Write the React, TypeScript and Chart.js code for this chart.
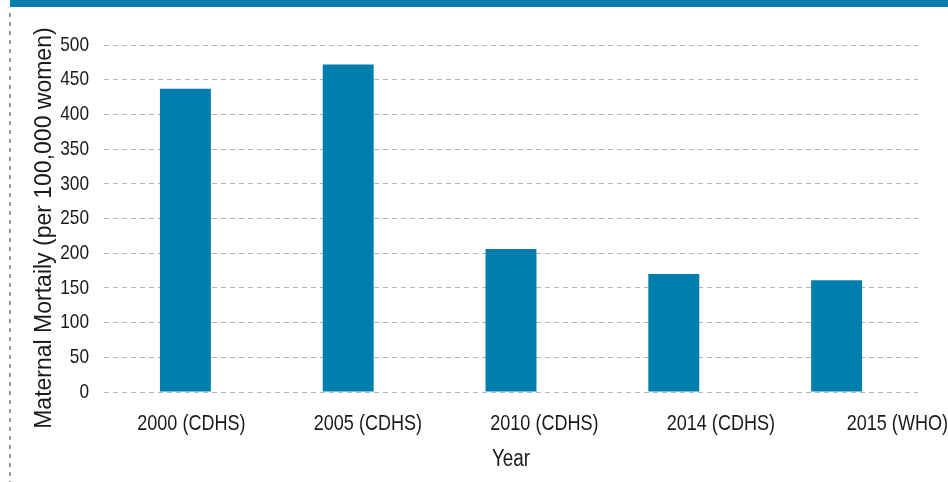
import React, { useEffect, useRef } from 'react';
import { Chart, registerables, LinearScale } from 'chart.js';

Chart.register(...registerables);

const categories = ['2000 (CDHS)', '2005 (CDHS)', '2010 (CDHS)', '2014 (CDHS)', '2015 (WHO)'];
const mortality = [437, 472, 206, 170, 161];
const yMin = 0;
const yMax = 500;
const yStep = 50;
const xTitle = 'Year';
const yTitle = 'Maternal Mortaily (per 100,000 women)';

const BLUE = '#007FAE';
const TEXT = '#1a1a1a';
const FAMILY = '"Liberation Sans", Arial, Helvetica, sans-serif';
const NARROW_X = 0.82; // horizontal squeeze, emulating a narrow Helvetica

// Linear scale whose tick labels (and horizontal title) are drawn condensed.
class NarrowLinear extends (LinearScale as any) {
  static id = 'narrowLinear';
  static defaults = (LinearScale as any).defaults;

  drawLabels(chartArea: any) {
    const ctx = this.ctx as CanvasRenderingContext2D;
    const items = this.getLabelItems(chartArea);
    for (const item of items) {
      const o = item.options;
      const lines = Array.isArray(item.label) ? item.label : [item.label];
      ctx.save();
      ctx.font = item.font.string;
      ctx.translate(o.translation[0], o.translation[1]);
      if (o.rotation) ctx.rotate(o.rotation);
      ctx.scale(NARROW_X, 1);
      ctx.fillStyle = o.color;
      ctx.textAlign = o.textAlign;
      ctx.textBaseline = o.textBaseline;
      let y = item.textOffset;
      for (const line of lines) {
        if (line !== '' && line != null) ctx.fillText(String(line), 0, y);
        y += item.font.lineHeight;
      }
      ctx.restore();
    }
  }

  drawTitle() {
    if (!this.isHorizontal()) {
      super.drawTitle();
      return;
    }
    const t = this.options.title;
    if (!t || !t.display) return;
    const ctx = this.ctx as CanvasRenderingContext2D;
    const size = t.font.size;
    const lh = size * 1.2;
    const padBottom = (t.padding && t.padding.bottom) || 0;
    const x = (this.left + this.right) / 2;
    const y = this.bottom - padBottom - lh / 2;
    ctx.save();
    ctx.font = `${size}px ${t.font.family}`;
    ctx.translate(x, y);
    ctx.scale(NARROW_X, 1);
    ctx.fillStyle = t.color;
    ctx.textAlign = 'center';
    ctx.textBaseline = 'middle';
    ctx.fillText(String(t.text), 0, 0);
    ctx.restore();
  }
}

Chart.register(NarrowLinear as any);

export default function App() {
  const ref = useRef<HTMLCanvasElement>(null);

  useEffect(() => {
    const canvas = ref.current;
    if (!canvas) return;
    const chart = new Chart(canvas, {
      type: 'bar',
      data: {
        labels: categories,
        datasets: [
          {
            data: mortality,
            backgroundColor: BLUE,
            xAxisID: 'x',
            yAxisID: 'y',
            categoryPercentage: 1,
            barPercentage: 0.313,
          },
        ],
      },
      options: {
        responsive: false,
        animation: false,
        layout: { padding: { left: 0, top: 45, right: 30, bottom: 0 } },
        plugins: { legend: { display: false }, tooltip: { enabled: false } },
        scales: {
          x: { type: 'category', display: false, offset: true },
          x2: {
            type: 'narrowLinear',
            axis: 'x',
            position: 'bottom',
            bounds: 'data',
            offset: false,
            min: -0.4952,
            max: 4.117,
            grid: { display: false, offset: false },
            border: { display: false },
            afterBuildTicks: (s: any) => {
              s.ticks = categories.map((_, i) => ({ value: i }));
            },
            ticks: {
              autoSkip: false,
              maxRotation: 0,
              minRotation: 0,
              padding: 11,
              color: TEXT,
              font: { family: FAMILY, size: 22 },
              callback: (v: any) => categories[Math.round(v)] ?? '',
            },
            title: {
              display: true,
              text: xTitle,
              color: TEXT,
              font: { family: FAMILY, size: 23 },
              padding: { top: 0, bottom: 9 },
            },
            afterFit: (s: any) => {
              s.height = 90;
              s.paddingLeft = 0;
              s.paddingRight = 0;
            },
          } as any,
          y: {
            type: 'narrowLinear',
            axis: 'y',
            min: yMin,
            max: yMax,
            ticks: {
              stepSize: yStep,
              padding: 15,
              color: TEXT,
              font: { family: FAMILY, size: 21 },
            },
            grid: { color: '#b4b4b4', lineWidth: 1, drawTicks: false },
            border: { display: false, dash: [5, 4] },
            title: {
              display: true,
              text: yTitle + '   ',
              color: TEXT,
              font: { family: FAMILY, size: 23 },
              padding: { top: 31, bottom: 0 },
            },
            afterFit: (s: any) => {
              s.width = 104;
              s.paddingTop = 0;
              s.paddingBottom = 0;
            },
          } as any,
        },
      },
    });
    return () => chart.destroy();
  }, []);

  return (
    <div
      style={{
        position: 'fixed',
        left: 0,
        top: 0,
        width: 948,
        height: 482,
        overflow: 'hidden',
        background: '#ffffff',
      }}
    >
      <canvas
        ref={ref}
        width={948}
        height={482}
        style={{ position: 'absolute', left: 0, top: 0, width: 948, height: 482 }}
      />
      <div
        style={{
          position: 'absolute',
          left: 10,
          top: 0,
          width: 938,
          height: 7,
          background: BLUE,
        }}
      />
      <div
        style={{
          position: 'absolute',
          left: 9,
          top: 13,
          width: 2,
          bottom: 0,
          background:
            'repeating-linear-gradient(to bottom, #9a9a9a 0px, #9a9a9a 4px, transparent 4px, transparent 9px)',
        }}
      />
    </div>
  );
}
